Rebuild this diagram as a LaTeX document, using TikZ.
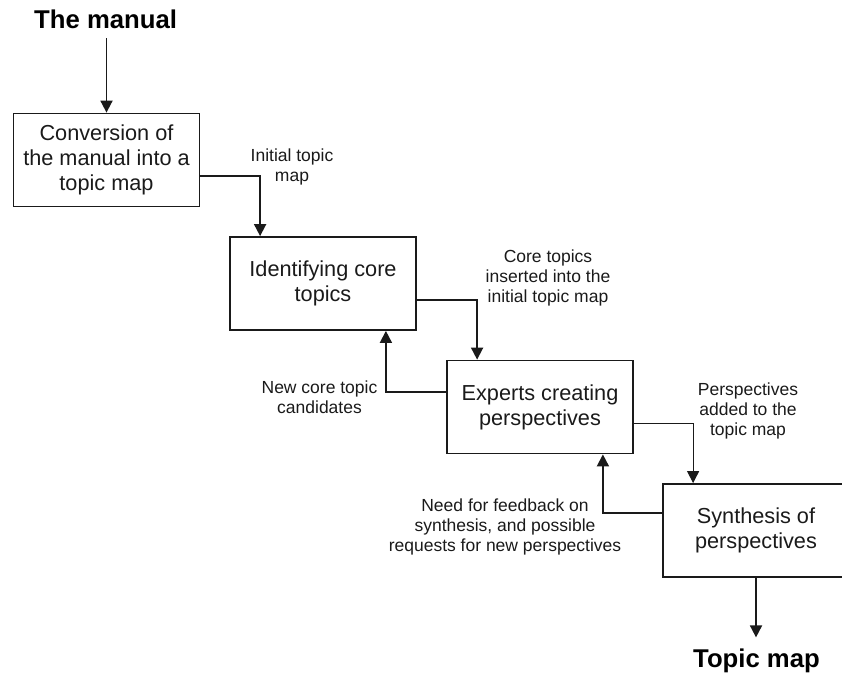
\documentclass[tikz,border=0pt]{standalone}
\usepackage{fontspec}
\setmainfont{Liberation Sans}
\usetikzlibrary{arrows.meta}
\definecolor{ink}{HTML}{1A1A1A}
\begin{document}
\begin{tikzpicture}[x=1pt,y=-1pt,
  stage/.style={draw=ink, text=ink, line width=1.8pt, minimum width=186pt,
    minimum height=93pt, align=center, inner sep=0pt,
    font=\fontsize{21.7}{25}\selectfont},
  note/.style={align=center, inner sep=0pt, text=ink,
    font=\fontsize{17.5}{20.3}\selectfont},
  title/.style={inner sep=0pt, text=black,
    font=\fontsize{25.7}{30}\selectfont\bfseries},
  flow/.style={draw=ink, line width=1.8pt, -{Triangle[length=12pt,width=12pt]}},
  thinflow/.style={draw=ink, line width=1pt, -{Triangle[length=12pt,width=12pt]}},
]
\useasboundingbox (0,0) rectangle (842,675);

% input and output
\node[title, anchor=base west, outer ysep=10pt] (manual) at (34,28) {The manual};
\node[title, anchor=base west, outer ysep=11pt] (topicmap) at (693,667) {Topic map};

% process stages
\node[stage] (conv) at (106.5,160) {Conversion of\\the manual into a\\topic map};
\node[stage] (ident) at (323,283.5) {Identifying core\\topics};
\node[stage] (experts) at (540,407) {Experts creating\\perspectives};
\node[stage] (synth) at (756,530.5) {Synthesis of\\perspectives};

% flow labels
\node[note] (linit) at (292,167) {Initial topic\\map};
\node[note] (lcore) at (548,278) {Core topics\\inserted into the\\initial topic map};
\node[note] (lcand) at (319.5,397) {New core topic\\candidates};
\node[note] (lpersp) at (748,411) {Perspectives\\added to the\\topic map};
\node[note] (lneed) at (505,527) {Need for feedback on\\synthesis, and possible\\requests for new perspectives};

% connectors
\draw[flow] (manual.south -| conv.north) -- (conv.north);
\draw[flow] ([yshift=-16pt]conv.east) -| ([xshift=31pt]ident.north west);
\draw[flow] ([yshift=-16.5pt]ident.east) -| ([xshift=31pt]experts.north west);
\draw[flow] ([yshift=15pt]experts.west) -| ([xshift=-31pt]ident.south east);
\draw[thinflow] ([yshift=-16pt]experts.east) -| ([xshift=31pt]synth.north west);
\draw[flow] ([yshift=17.5pt]synth.west) -| ([xshift=-31pt]experts.south east);
\draw[flow] (synth.south) -- (synth.south |- topicmap.north);
\end{tikzpicture}
\end{document}
